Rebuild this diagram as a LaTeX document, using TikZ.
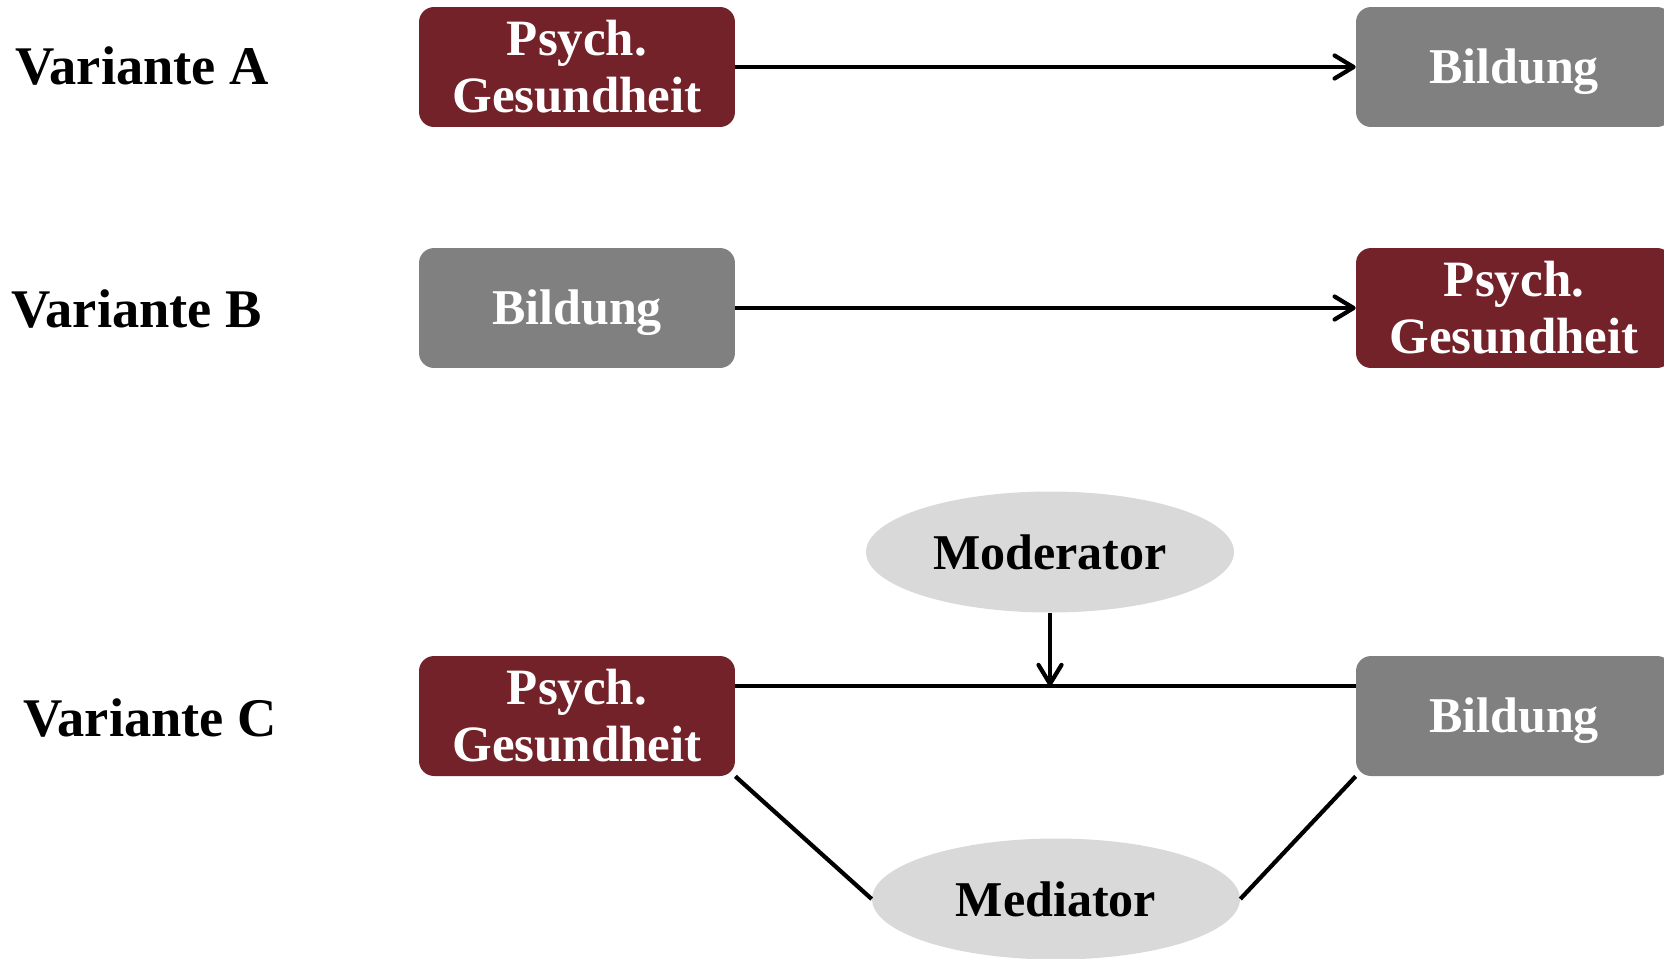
\documentclass[tikz,border=0pt]{standalone}
\usepackage{fontspec}
\setmainfont{Liberation Serif}
\usepackage{tikz}
\usetikzlibrary{shapes.geometric, arrows.meta}
\definecolor{psychred}{RGB}{116,34,42}
\definecolor{bildgray}{RGB}{128,128,128}
\definecolor{ovalgray}{RGB}{217,217,217}
\tikzstyle{psych} = [rectangle, rounded corners=0.3cm, minimum width=6.32cm, minimum height=2.4cm, align=center, fill=psychred, text=white, font=\bfseries\fontsize{29}{32.4}\selectfont]
\tikzstyle{bild} = [rectangle, rounded corners=0.3cm, minimum width=6.32cm, minimum height=2.4cm, text height=25pt, text depth=6.3pt, fill=bildgray, text=white, font=\bfseries\fontsize{28.5}{32.4}\selectfont]
\tikzstyle{oval} = [ellipse, minimum width=7.36cm, minimum height=2.42cm, inner sep=0pt, fill=ovalgray, font=\bfseries\fontsize{28.5}{32.4}\selectfont]
\tikzstyle{variante} = [anchor=west, inner sep=0pt, font=\bfseries\fontsize{31}{34}\selectfont]
\tikzstyle{arrow} = [line width=2.4pt,-{Straight Barb[length=0.38cm,width=0.46cm,line cap=round,line join=round]}]
\tikzstyle{line} = [line width=2.4pt]

\begin{document}
\begin{tikzpicture}[x=0.02cm, y=-0.02cm]
				\useasboundingbox (0,0) rectangle (1664,958);
				\clip (0,0) rectangle (1664,958);
				% Variante A
				\node (varA) [variante] at (15,66) {Variante A};
				\node (psychA) [psych] at (577,67) {Psych.\\Gesundheit};
				\node (bildA) [bild] at (1514,67) {Bildung};
				\draw [arrow] (psychA) -- (bildA);
				% Variante B
				\node (varB) [variante] at (11,309) {Variante B};
				\node (bildB) [bild] at (577,308) {Bildung};
				\node (psychB) [psych] at (1514,308) {Psych.\\Gesundheit};
				\draw [arrow] (bildB) -- (psychB);
				% Variante C
				\node (varC) [variante] at (23,718) {Variante C};
				\node (psychC) [psych] at (577,716) {Psych.\\Gesundheit};
				\node (bildC) [bild] at (1514,716) {Bildung};
				\node (moderator) [oval] at (1050,552) {Moderator};
				\node (mediator) [oval] at (1056,899) {Mediator};
				\draw [line] ([yshift=0.6cm]psychC.east) -- coordinate (hit) ([yshift=0.6cm]bildC.west);
				\draw [arrow] (moderator.south) -- (moderator.south |- hit);
				\draw [line] (psychC.south east) -- (mediator.west);
				\draw [line] (bildC.south west) -- (mediator.east);
			\end{tikzpicture}
\end{document}
